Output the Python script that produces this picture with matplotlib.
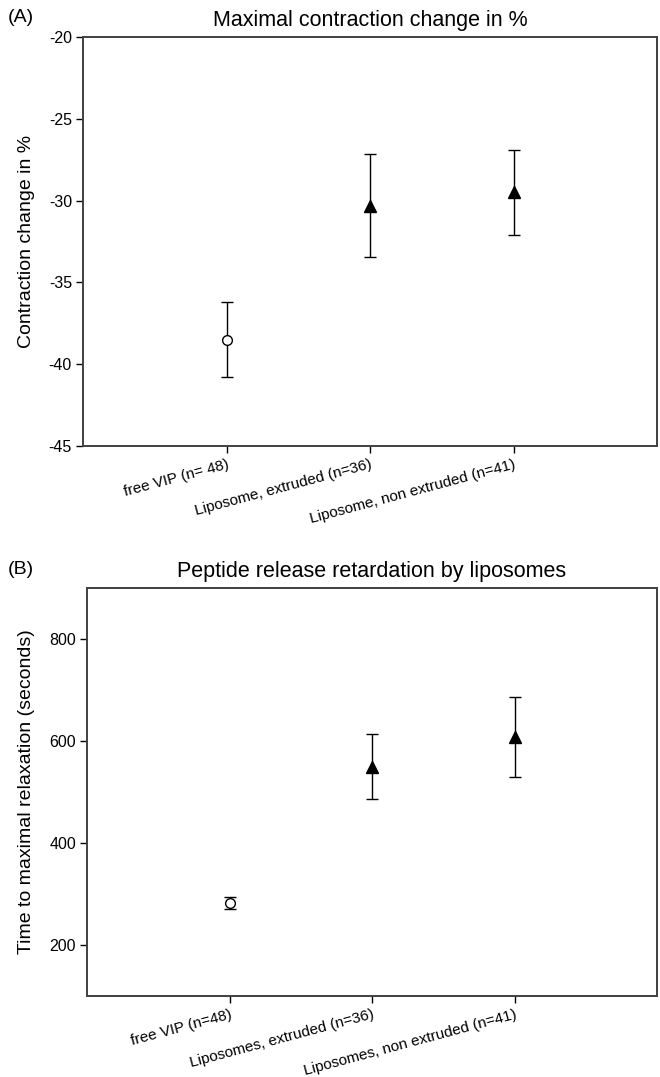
import matplotlib
matplotlib.use("Agg")
import matplotlib.pyplot as plt

plt.rcParams['font.family'] = ['Liberation Sans', 'DejaVu Sans']
plt.rcParams['axes.unicode_minus'] = False

# panel A: maximal contraction change
labels_a = ['free VIP (n= 48)', 'Liposome, extruded (n=36)', 'Liposome, non extruded (n=41)']
mean_a = [-38.5, -30.3, -29.5]
err_a = [2.3, 3.15, 2.6]

# panel B: time to maximal relaxation
labels_b = ['free VIP (n=48)', 'Liposomes, extruded (n=36)', 'Liposomes, non extruded (n=41)']
mean_b = [282, 550, 608]
err_b = [12, 64, 79]

# marker style per group: free peptide open, liposomes filled
markers = ['o', '^', '^']
faces = ['white', 'black', 'black']
sizes = [7, 8, 8]

fig = plt.figure(figsize=(6.6, 10.77), dpi=100)
W, H = 660, 1077

def add_panel(rect, means, errs, labels, ylim, yticks, ylabel, title, tag):
	l, t, r, b = rect
	ax = fig.add_axes([l / W, 1 - b / H, (r - l) / W, (b - t) / H])
	x = list(range(1, len(means) + 1))
	for xi, m, e, mk, fc, ms in zip(x, means, errs, markers, faces, sizes):
		ax.errorbar(xi, m, yerr=e, fmt=mk, mfc=fc, mec='black', color='black',
			ms=ms, ecolor='black', elinewidth=1, capsize=4.5, capthick=1, zorder=3)
	ax.set_xlim(0, 4)
	ax.set_ylim(*ylim)
	ax.set_yticks(yticks)
	ax.set_xticks(x)
	ax.set_xticklabels(labels, rotation=15, ha='right', rotation_mode='anchor', fontsize=11)
	ax.tick_params(axis='y', labelsize=11.5, direction='out', length=5, width=1, pad=3)
	ax.tick_params(axis='x', direction='out', length=5, width=1, pad=3)
	for s in ax.spines.values():
		s.set_linewidth(1.4)
		s.set_color('#404040')
	ax.set_ylabel(ylabel, fontsize=14, labelpad=10)
	ax.set_title(title, fontsize=15.5, pad=8)
	fig.text(8 / W, 1 - (t - 19) / H, tag, fontsize=14, va='center', ha='left')
	return ax

add_panel((83, 37, 657, 446), mean_a, err_a, labels_a, (-45, -20),
	[-45, -40, -35, -30, -25, -20], 'Contraction change in %',
	'Maximal contraction change in %', '(A)')

add_panel((87, 588, 657, 996), mean_b, err_b, labels_b, (100, 900),
	[200, 400, 600, 800], 'Time to maximal relaxation (seconds)',
	'Peptide release retardation by liposomes', '(B)')

fig.savefig('out.png', dpi=100)
